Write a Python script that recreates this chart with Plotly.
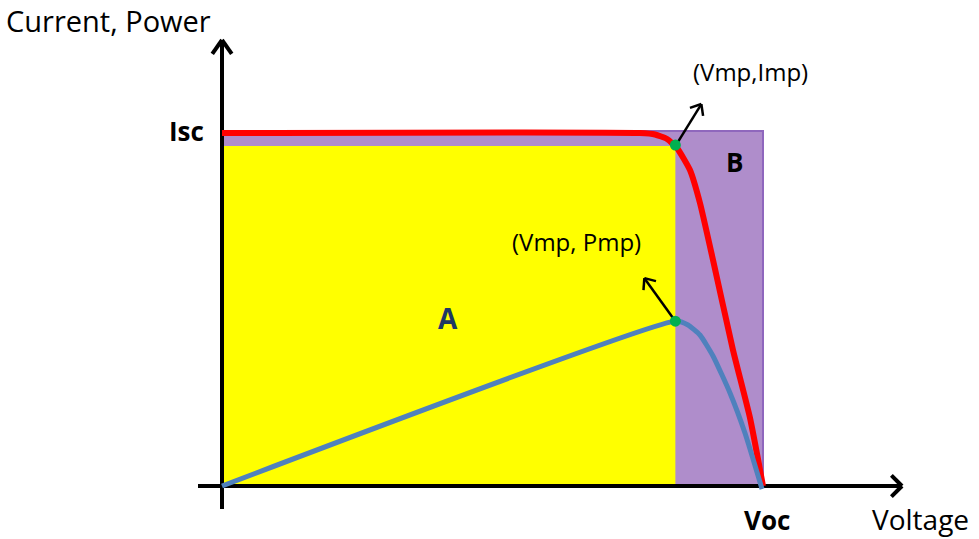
import math
import plotly.graph_objects as go

# ---- data (normalised: voltage / Voc, current / Isc, power scaled to same axis) ----
iv_voltage = [0.0, 0.7726, 0.8004, 0.8226, 0.841, 0.865, 0.8835, 0.9076, 0.9445, 0.976, 1.0]
iv_current = [1.0, 1.0, 0.9958, 0.983, 0.9575, 0.895, 0.8017, 0.6402, 0.3853, 0.1926, 0.0]
pv_voltage = [0.0, 0.8392, 0.8614, 0.8835, 0.9076, 0.939, 0.9667, 0.9982]
pv_power = [0.0, 0.4674, 0.4561, 0.4278, 0.3683, 0.2635, 0.1501, -0.0085]
Voc = 1.0
Isc = 1.0
Vmp = 0.838
Imp = 0.963
Pmp = 0.467

# ---- pixel <-> data mapping (figure fills the whole 979x539 page) ----
W, H = 979, 539
X0, XS = 222, 541   # pixel x of V=0, pixels per Voc
Y0, YS = 486, 353   # pixel y of I=0, pixels per Isc


def dx(px):
    return px / XS


def dy(py):
    # py: pixel offset, positive = downwards
    return -py / YS


def to_px(v, i):
    return X0 + v * XS, Y0 - i * YS


def to_data(x, y):
    return (x - X0) / XS, (Y0 - y) / YS


def chevron(tail, tip, length, half_angle_deg):
    """Open arrow head legs at tip (data coords)."""
    tx, ty = to_px(*tail)
    hx, hy = to_px(*tip)
    ang = math.atan2(hy - ty, hx - tx)
    xs, ys = [], []
    for s in (-1, 1):
        a = ang + math.pi + s * math.radians(half_angle_deg)
        lx, ly = hx + length * math.cos(a), hy + length * math.sin(a)
        v, i = to_data(lx, ly)
        xs += [v, tip[0], None]
        ys += [i, tip[1], None]
    return xs[:-1], ys[:-1]


fig = go.Figure()

# regions
fig.add_shape(type="rect", x0=0, x1=Voc, y0=0, y1=Isc + dy(-2), layer="below",
              fillcolor="#AF8DCB", line=dict(color="#8F67BD", width=2))
fig.add_shape(type="rect", x0=0, x1=Vmp, y0=0, y1=Imp, layer="below",
              fillcolor="#FFFF00", line=dict(width=0))

# axes
x_axis_start, x_axis_end = dx(-24), Voc + dx(139)
y_axis_start, y_axis_end = dy(23), Isc + dy(-93)
fig.add_trace(go.Scatter(x=[x_axis_start, x_axis_end], y=[0, 0], mode="lines",
                         line=dict(color="black", width=4), hoverinfo="skip"))
fig.add_trace(go.Scatter(x=[0, 0], y=[y_axis_start, y_axis_end], mode="lines",
                         line=dict(color="black", width=4), hoverinfo="skip"))
cx, cy = chevron((0, 0), (x_axis_end, 0), 15, 45)
fig.add_trace(go.Scatter(x=cx, y=cy, mode="lines", line=dict(color="black", width=4),
                         hoverinfo="skip"))
cx, cy = chevron((0, 0), (0, y_axis_end), 17, 35)
fig.add_trace(go.Scatter(x=cx, y=cy, mode="lines", line=dict(color="black", width=4),
                         hoverinfo="skip"))

# I-V curve
fig.add_trace(go.Scatter(x=iv_voltage, y=iv_current, mode="lines",
                         line=dict(color="#FF0000", width=6, shape="spline", smoothing=0.5),
                         hoverinfo="skip"))
# P-V curve
fig.add_trace(go.Scatter(x=pv_voltage, y=pv_power, mode="lines",
                         line=dict(color="#4F81BD", width=5, shape="spline", smoothing=0.5),
                         hoverinfo="skip"))

# small arrows from the maximum power points
arrows = [((Vmp, Imp), (Vmp + dx(26), Imp + dy(-42))),
          ((Vmp, Pmp), (Vmp + dx(-31), Pmp + dy(-43)))]
for tail, tip in arrows:
    fig.add_trace(go.Scatter(x=[tail[0], tip[0]], y=[tail[1], tip[1]], mode="lines",
                             line=dict(color="black", width=2.5), hoverinfo="skip"))
    cx, cy = chevron(tail, tip, 12, 40)
    fig.add_trace(go.Scatter(x=cx, y=cy, mode="lines", line=dict(color="black", width=2.5),
                             hoverinfo="skip"))

# MPP markers
fig.add_trace(go.Scatter(x=[Vmp, Vmp], y=[Imp + dy(-1), Pmp], mode="markers",
                         marker=dict(color="#00B050", size=11, line=dict(width=0)),
                         hoverinfo="skip"))

FONT = "'Open Sans', Lato, sans-serif"


def label(text, x, y, size, color="black", bold=False, xanchor="center"):
    fig.add_annotation(x=x, y=y, xref="x", yref="y", showarrow=False,
                       text=f"<b>{text}</b>" if bold else text,
                       xanchor=xanchor, yanchor="middle",
                       font=dict(family=FONT, size=size, color=color))


label("Current, Power", dx(-218), Isc + dy(-113), 29, xanchor="left")
label("Voltage", Voc + dx(107), dy(33), 28, xanchor="left")
label("Isc", dx(-16), Isc + dy(-2), 26, bold=True, xanchor="right")
label("Voc", Voc + dx(4), dy(34), 26, bold=True)
label("A", dx(226), dy(-168), 28, color="#1F3864", bold=True)
label("B", Voc + dx(-29), Isc + dy(29), 26, bold=True)
label("(Vmp,Imp)", Vmp + dx(75), Imp + dy(-75), 24)
label("(Vmp, Pmp)", Vmp + dx(-99), Pmp + dy(-80), 24)

fig.update_layout(
    width=W, height=H,
    margin=dict(l=0, r=0, t=0, b=0),
    paper_bgcolor="white", plot_bgcolor="white",
    showlegend=False,
    xaxis=dict(range=[-X0 / XS, (W - X0) / XS], visible=False, fixedrange=True),
    yaxis=dict(range=[(Y0 - H) / YS, Y0 / YS], visible=False, fixedrange=True),
)

fig.write_html("out.html", config={"displayModeBar": False},
               post_script="document.body.style.margin='0';document.body.style.overflow='hidden';")
